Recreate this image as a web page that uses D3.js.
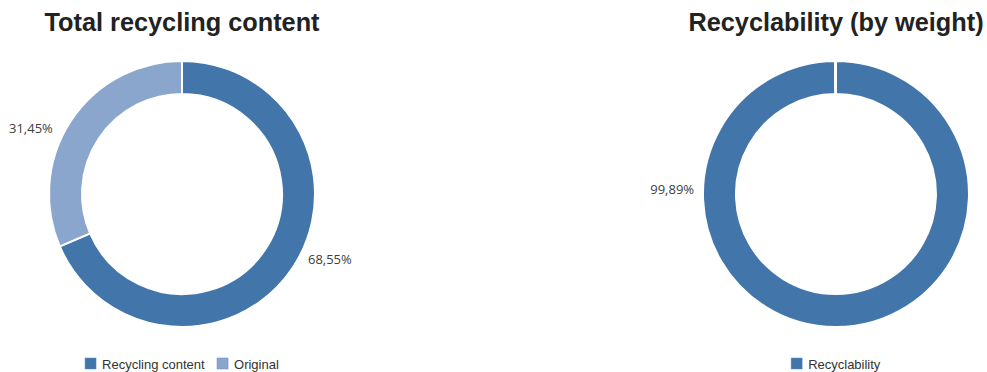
<!DOCTYPE html>
<html>
<head>
<meta charset="utf-8">
<script src="https://cdn.jsdelivr.net/npm/d3@7"></script>
<style>
  body { margin: 0; background: #fff; }
  svg { display: block; }
</style>
</head>
<body>
<svg id="chart" width="987" height="372"></svg>
<script>
// chart data
var titles = ["Total recycling content", "Recyclability (by weight)"];
var recyclingLabels = ["Recycling content", "Original"];
var recyclingValues = [68.55, 31.45];
var recyclabilityLabels = ["Recyclability", ""];
var recyclabilityValues = [99.89, 0.11];
var legendShown = [[true, true], [true, false]];
var labelShown = [[true, true], [true, false]];

// layout
var width = 987, height = 372,
    centers = [182, 836],
    cy = 194,
    outerR = 133,
    innerR = 100,
    labelR = [[142, 145], [142, 0]],
    // where each percent label sits, degrees clockwise from 12 o'clock
    labelAngles = [[117.5, 297], [272, 0]];

var colors = [["#4275a9", "#8aa6cd"], ["#4275a9", "#ffffff"]];

var fmt = function (v) { return v.toFixed(2).replace(".", ",") + "%"; };

var svg = d3.select("#chart");

var charts = [
    { title: titles[0], labels: recyclingLabels, values: recyclingValues },
    { title: titles[1], labels: recyclabilityLabels, values: recyclabilityValues }
];

var pie = d3.pie().sort(null).value(function (d) { return d; });
var arc = d3.arc().innerRadius(innerR).outerRadius(outerR);

charts.forEach(function (c, ci) {
    var g = svg.append("g").attr("transform", "translate(" + centers[ci] + "," + cy + ")");
    var color = d3.scaleOrdinal().domain(d3.range(c.values.length)).range(colors[ci]);

    g.append("text")
        .attr("x", 0)
        .attr("y", 31 - cy)
        .attr("text-anchor", "middle")
        .style("font-family", "'Liberation Sans', Arial, sans-serif")
        .style("font-weight", "bold")
        .style("font-size", "25.3px")
        .style("fill", "#222")
        .text(c.title);

    var arcs = pie(c.values);

    g.selectAll("path")
        .data(arcs)
        .enter().append("path")
        .attr("d", arc)
        .attr("fill", function (d, i) { return color(i); })
        .attr("stroke", "#fff")
        .attr("stroke-width", 2);

    g.selectAll("text.lbl")
        .data(arcs.filter(function (d, i) { return labelShown[ci][i]; }))
        .enter().append("text")
        .attr("class", "lbl")
        .each(function (d, i) {
            var a = labelAngles[ci][i] * Math.PI / 180, r = labelR[ci][i];
            var x = Math.sin(a) * r, y = -Math.cos(a) * r;
            d3.select(this)
                .attr("x", x)
                .attr("y", y)
                .attr("dy", "0.35em")
                .attr("text-anchor", x >= 0 ? "start" : "end");
        })
        .style("font-family", "'Open Sans', sans-serif")
        .style("font-size", "13px")
        .style("fill", "#404040")
        .text(function (d) { return fmt(d.data); });

    // legend
    var items = c.labels.map(function (l, i) { return { label: l, i: i }; })
        .filter(function (d) { return legendShown[ci][d.i]; });
    var lg = g.append("g");
    var x = 0;
    var ents = lg.selectAll("g").data(items).enter().append("g");
    ents.append("rect")
        .attr("width", 11).attr("height", 11)
        .attr("fill", function (d) { return color(d.i); })
        .attr("stroke", "#5a8cc0").attr("stroke-width", 0.5);
    ents.append("text")
        .attr("x", 17).attr("y", 10.5)
        .style("font-family", "'Liberation Sans', Arial, sans-serif")
        .style("font-size", "13px")
        .style("fill", "#333")
        .text(function (d) { return d.label; });
    ents.each(function () {
        d3.select(this).attr("transform", "translate(" + x + ",0)");
        x += this.getBBox().width + 12;
    });
    var total = x - 12;
    lg.attr("transform", "translate(" + (-total / 2) + "," + (358 - cy) + ")");
});
</script>
</body>
</html>
